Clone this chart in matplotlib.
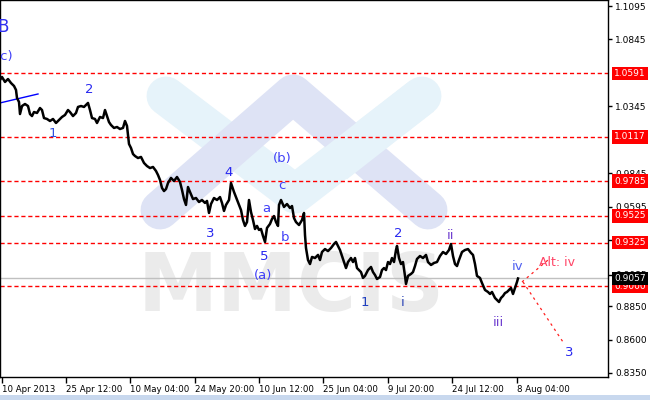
import matplotlib
matplotlib.use("Agg")
import matplotlib.pyplot as plt
from matplotlib.patches import Rectangle

# H4 bars, one bar per pixel roughly
bars = [0, 2, 5, 8, 11, 14, 16, 17, 19, 20, 22, 25, 28, 30, 32, 34, 37, 40, 42, 44,
        47, 50, 53, 56, 59, 62, 65, 68, 70, 73, 76, 78, 81, 84, 86, 88, 90, 92, 95, 97,
        100, 103, 105, 107, 109, 111, 114, 117, 120, 123, 125, 127, 128, 129, 131, 133, 135, 138, 141, 144,
        147, 150, 153, 156, 158, 160, 162, 164, 166, 168, 171, 174, 177, 180, 182, 184, 186, 188, 190, 193,
        196, 199, 202, 205, 207, 209, 211, 214, 217, 220, 222, 224, 226, 229, 231, 234, 236, 239, 241, 243,
        245, 247, 249, 251, 253, 255, 257, 259, 261, 263, 265, 267, 270, 272, 274, 276, 278, 279, 281, 284,
        287, 290, 292, 294, 296, 299, 302, 304, 305, 306, 308, 310, 312, 315, 318, 320, 322, 325, 328, 331,
        334, 336, 338, 340, 342, 344, 346, 348, 351, 353, 355, 357, 359, 361, 363, 365, 368, 371, 373, 375,
        377, 380, 382, 384, 386, 388, 390, 392, 394, 396, 397, 399, 401, 403, 405, 406, 408, 411, 413, 415,
        417, 420, 423, 426, 428, 431, 434, 437, 440, 443, 446, 449, 451, 453, 455, 457, 459, 462, 465, 468,
        471, 473, 475, 477, 480, 482, 485, 488, 490, 492, 495, 497, 499, 501, 503, 505, 507, 509, 511, 513,
        515, 517, 518]
close = [1.0542, 1.0564, 1.0527, 1.0549, 1.0519, 1.0497, 1.0467, 1.0407, 1.0377, 1.0287,
         1.0347, 1.0362, 1.0347, 1.0287, 1.0272, 1.0302, 1.0295, 1.0332, 1.0317, 1.0257,
         1.0250, 1.0235, 1.0250, 1.0220, 1.0242, 1.0265, 1.0280, 1.0317, 1.0302, 1.0272,
         1.0295, 1.0340, 1.0347, 1.0340, 1.0355, 1.0370, 1.0317, 1.0257, 1.0250, 1.0220,
         1.0265, 1.0257, 1.0317, 1.0272, 1.0227, 1.0205, 1.0183, 1.0190, 1.0175, 1.0183,
         1.0235, 1.0198, 1.0130, 1.0063, 1.0033, 0.9988, 0.9973, 0.9958, 0.9966, 0.9921,
         0.9898, 0.9883, 0.9891, 0.9861, 0.9831, 0.9794, 0.9734, 0.9711, 0.9726, 0.9771,
         0.9809, 0.9786, 0.9816, 0.9779, 0.9719, 0.9651, 0.9607, 0.9741, 0.9704, 0.9651,
         0.9659, 0.9629, 0.9644, 0.9622, 0.9637, 0.9547, 0.9614, 0.9659, 0.9644, 0.9666,
         0.9622, 0.9562, 0.9607, 0.9644, 0.9771, 0.9704, 0.9666, 0.9607, 0.9569, 0.9494,
         0.9450, 0.9479, 0.9644, 0.9554, 0.9494, 0.9427, 0.9450, 0.9420, 0.9427, 0.9375,
         0.9330, 0.9435, 0.9465, 0.9502, 0.9524, 0.9479, 0.9450, 0.9607, 0.9644, 0.9592,
         0.9614, 0.9584, 0.9599, 0.9509, 0.9479, 0.9457, 0.9494, 0.9547, 0.9382, 0.9285,
         0.9195, 0.9165, 0.9218, 0.9210, 0.9233, 0.9195, 0.9255, 0.9277, 0.9262, 0.9285,
         0.9315, 0.9330, 0.9300, 0.9270, 0.9225, 0.9180, 0.9135, 0.9180, 0.9210, 0.9180,
         0.9210, 0.9135, 0.9120, 0.9105, 0.9061, 0.9076, 0.9120, 0.9143, 0.9105, 0.9083,
         0.9053, 0.9068, 0.9120, 0.9135, 0.9120, 0.9180, 0.9165, 0.9210, 0.9180, 0.9270,
         0.9300, 0.9210, 0.9165, 0.9180, 0.9076, 0.9016, 0.9076, 0.9091, 0.9105, 0.9150,
         0.9203, 0.9225, 0.9210, 0.9233, 0.9180, 0.9158, 0.9173, 0.9180, 0.9225, 0.9255,
         0.9240, 0.9270, 0.9315, 0.9225, 0.9165, 0.9150, 0.9195, 0.9255, 0.9270, 0.9277,
         0.9248, 0.9233, 0.9165, 0.9076, 0.9061, 0.9023, 0.8971, 0.8956, 0.8941, 0.8956,
         0.8911, 0.8896, 0.8881, 0.8911, 0.8926, 0.8948, 0.8956, 0.8971, 0.8986, 0.8941,
         0.8986, 0.9031, 0.9057]

levels = [1.0591, 1.0117, 0.9785, 0.9525, 0.9325, 0.9000]
last_price = 0.9057
grid_prices = [1.1095, 1.0845, 1.0345, 0.9845, 0.9595, 0.9345, 0.9085, 0.8850, 0.8600, 0.8350]

tick_bars = [2, 66, 130, 195, 259, 323, 388, 452, 517]
tick_labels = ["10 Apr 2013", "25 Apr 12:00", "10 May 04:00", "24 May 20:00", "10 Jun 12:00",
               "25 Jun 04:00", "9 Jul 20:00", "24 Jul 12:00", "8 Aug 04:00"]

# blue trend line top left
trend_x = [0, 38]
trend_y = [1.0370, 1.0437]
# forecast lines
main_x = [523, 563]
main_y = [0.9031, 0.8582]
alt_x = [522, 548]
alt_y = [0.9031, 0.9195]

# wave marks: text, bar, price, colour
waves = [
    ("2", 89, 1.0474, "#2828f0"), ("1", 53, 1.0138, "#3050e0"),
    ("4", 229, 0.9846, "#2828f0"), ("3", 210, 0.9397, "#2828f0"),
    ("(b)", 282, 0.9951, "#4040f8"), ("c", 282, 0.9756, "#4040f8"),
    ("a", 266, 0.9584, "#4040f8"), ("b", 285, 0.9367, "#4040f8"),
    ("5", 264, 0.9225, "#2828f0"), ("(a)", 263, 0.9076, "#4040f8"),
    ("1", 365, 0.8874, "#2040c0"), ("2", 398, 0.9390, "#2828f0"),
    ("i", 403, 0.8881, "#3048b8"), ("ii", 451, 0.9382, "#7040d0"),
    ("iii", 498, 0.8724, "#7040d0"), ("iv", 518, 0.9150, "#5060f0"),
    ("3", 569, 0.8500, "#2828f0"),
]

W, H = 650, 400
fig = plt.figure(figsize=(6.5, 4.0), dpi=100)
fig.patch.set_facecolor("white")
ax = fig.add_axes([0, 1 - 377 / H, 608 / W, 377 / H])
ax.set_xlim(0, 608)
ax.set_ylim(0.832, 1.114)

# watermark logo (pixel coords in the chart area)
def px(x, y):
    return x / 608, 1 - y / 377

lw_band = 28
lb = "#e6f3fa"
lv = "#dee3f5"
vx, vy = zip(px(166, 96), px(295, 194), px(422, 96))
ax.plot(vx, vy, transform=ax.transAxes, color=lb, lw=lw_band,
        solid_capstyle="round", solid_joinstyle="round", zorder=0)
hx, hy = zip(px(160, 210), px(293, 94), px(428, 210))
ax.plot(hx, hy, transform=ax.transAxes, color=lv, lw=lw_band,
        solid_capstyle="round", solid_joinstyle="round", zorder=0.1)
sx, sy = zip(px(422, 96), px(335, 164))
ax.plot(sx, sy, transform=ax.transAxes, color=lb, lw=lw_band,
        solid_capstyle="butt", zorder=0.2)
ax.text(291, 0.8980, "MMCIS", fontsize=58, fontweight="bold", color="#ebebeb",
        ha="center", va="center", zorder=0.3, family="DejaVu Sans")

for lev in levels:
    ax.axhline(lev, color="#ff0000", lw=1, ls=(0, (3, 2)), zorder=1)
ax.axhline(last_price, color="#c0c0c0", lw=1, zorder=1)

ax.plot(trend_x, trend_y, color="#0000ff", lw=1, zorder=2)
ax.plot(bars, close, color="black", lw=1.8, zorder=3)
ax.plot(main_x, main_y, color="#ff2020", lw=0.9, ls=(0, (2, 3)), zorder=2)
ax.plot(alt_x, alt_y, color="#ff2020", lw=0.9, ls=(0, (2, 3)), zorder=2)

for t, x, y, c in waves:
    ax.text(x, y, t, color=c, fontsize=9.5, ha="center", va="center", zorder=4)
ax.text(539, 0.9180, "Alt: iv", color="#ff4466", fontsize=9, ha="left", va="center", zorder=4)
ax.text(-3, 1.0938, "B", color="#3030f0", fontsize=12, ha="left", va="center", zorder=4, clip_on=True)
ax.text(-4, 1.0714, "(c)", color="#4040f8", fontsize=9.5, ha="left", va="center", zorder=4, clip_on=True)

# axes styling
for s in ax.spines.values():
    s.set_color("black")
    s.set_linewidth(1)
ax.yaxis.tick_right()
ax.set_yticks(grid_prices)
ax.set_yticklabels(["%.4f" % p for p in grid_prices])
ax.tick_params(axis="y", direction="out", length=3, width=1, pad=2, labelsize=6.5)
ax.set_xticks(tick_bars)
ax.set_xticklabels(tick_labels, ha="left")
ax.tick_params(axis="x", direction="out", length=4, width=1, pad=2, labelsize=6.2)

# price labels on the right scale
for lev in levels:
    ax.text(1.01, lev, "%.4f" % lev, transform=ax.get_yaxis_transform(), color="white",
            fontsize=6.5, ha="left", va="center", clip_on=False, zorder=10,
            bbox=dict(boxstyle="square,pad=0.25", fc="#ff0000", ec="none"))
ax.text(1.01, last_price, "%.4f" % last_price, transform=ax.get_yaxis_transform(), color="white",
        fontsize=6.5, ha="left", va="center", clip_on=False, zorder=10,
        bbox=dict(boxstyle="square,pad=0.25", fc="black", ec="none"))

fig.patches.append(Rectangle((0, 0), 1, 5 / H, transform=fig.transFigure,
                             fc="#c8d8ee", ec="none"))

fig.savefig("out.png", dpi=100)
